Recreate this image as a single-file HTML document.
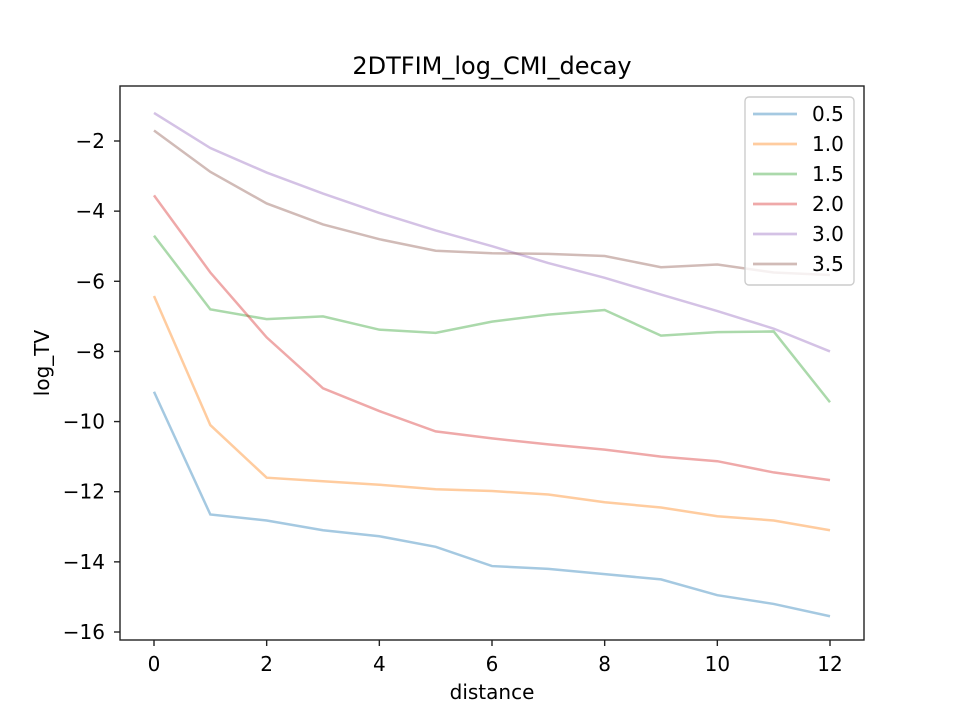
<!DOCTYPE html>
<html><head><meta charset="utf-8"><style>body{margin:0;background:#fff}svg text{font-family:"DejaVu Sans","Liberation Sans",sans-serif;fill:#000}</style></head>
<body>
<svg id="chart" width="960" height="720" xmlns="http://www.w3.org/2000/svg">
<rect width="960" height="720" fill="#fff"/>
<g id="plot"></g>
</svg>
<script>
const xValues=[0,1,2,3,4,5,6,7,8,9,10,11,12];
const seriesNames=["0.5","1.0","1.5","2.0","3.0","3.5"];
const s05=[-9.15,-12.65,-12.82,-13.1,-13.27,-13.57,-14.12,-14.2,-14.35,-14.5,-14.95,-15.2,-15.55];
const s10=[-6.42,-10.1,-11.6,-11.7,-11.8,-11.93,-11.98,-12.08,-12.3,-12.45,-12.7,-12.82,-13.1];
const s15=[-4.7,-6.8,-7.08,-7.0,-7.38,-7.47,-7.15,-6.95,-6.82,-7.55,-7.45,-7.43,-9.45];
const s20=[-3.55,-5.75,-7.6,-9.05,-9.7,-10.28,-10.48,-10.65,-10.8,-11.0,-11.13,-11.45,-11.67];
const s30=[-1.2,-2.2,-2.9,-3.5,-4.05,-4.55,-5.0,-5.48,-5.9,-6.38,-6.85,-7.35,-8.0];
const s35=[-1.7,-2.88,-3.78,-4.38,-4.8,-5.13,-5.2,-5.22,-5.28,-5.6,-5.52,-5.75,-5.82];
const xTicks=[0,2,4,6,8,10,12];
const yTicks=[-2,-4,-6,-8,-10,-12,-14,-16];
const colors=["#1f77b4","#ff7f0e","#2ca02c","#d62728","#9467bd","#8c564b"];
const all=[s05,s10,s15,s20,s30,s35];
const L=120,R=864,T=86,B=640;
const X=v=>154+(v-0)*(830-154)/12;
const Y=v=>141+(v+2)*(632-141)/(-14);
const NS="http://www.w3.org/2000/svg";
const g=document.getElementById('plot');
function mk(t,a,p){const e=document.createElementNS(NS,t);for(const k in a)e.setAttribute(k,a[k]);(p||g).appendChild(e);return e;}
all.forEach((s,i)=>{
 const p=mk('polyline',{points:s.map((v,j)=>X(xValues[j])+','+Y(v)).join(' '),fill:'none',stroke:colors[i],'stroke-opacity':0.4,'stroke-width':2.5});
 
 
});
const ax=mk('rect',{x:L,y:T,width:R-L,height:B-T,fill:'none',stroke:'#222','stroke-width':1.4});


xTicks.forEach(v=>{
 mk('line',{x1:X(v),x2:X(v),y1:B,y2:B+6,stroke:'#222','stroke-width':1.4});
 const t=mk('text',{x:X(v),y:B+31,'text-anchor':'middle','font-size':20});t.textContent=v;
 
 
});
yTicks.forEach(v=>{
 mk('line',{x1:L-6,x2:L,y1:Y(v),y2:Y(v),stroke:'#222','stroke-width':1.4});
 const t=mk('text',{x:L-15,y:Y(v)+7,'text-anchor':'end','font-size':20});t.textContent='\u2212'+Math.abs(v);
 
 
});
let t=mk('text',{x:492,y:74,'text-anchor':'middle','font-size':24});t.textContent='2DTFIM_log_CMI_decay';


t=mk('text',{x:492,y:699,'text-anchor':'middle','font-size':20});t.textContent='distance';


t=mk('text',{x:49,y:363,'text-anchor':'middle','font-size':20,transform:'rotate(-90 49 363)'});t.textContent='log_TV';


const lg=mk('rect',{x:745,y:97,width:109,height:188,rx:4,fill:'#fff','fill-opacity':0.8,stroke:'#ccc','stroke-width':1.4});


seriesNames.forEach((n,i)=>{
 const y=114+i*30;
 mk('line',{x1:753,x2:797,y1:y,y2:y,stroke:colors[i],'stroke-opacity':0.4,'stroke-width':2.7});
 const tt=mk('text',{x:812,y:y+7,'font-size':20});tt.textContent=n;
 
 
});
</script>
</body></html>
